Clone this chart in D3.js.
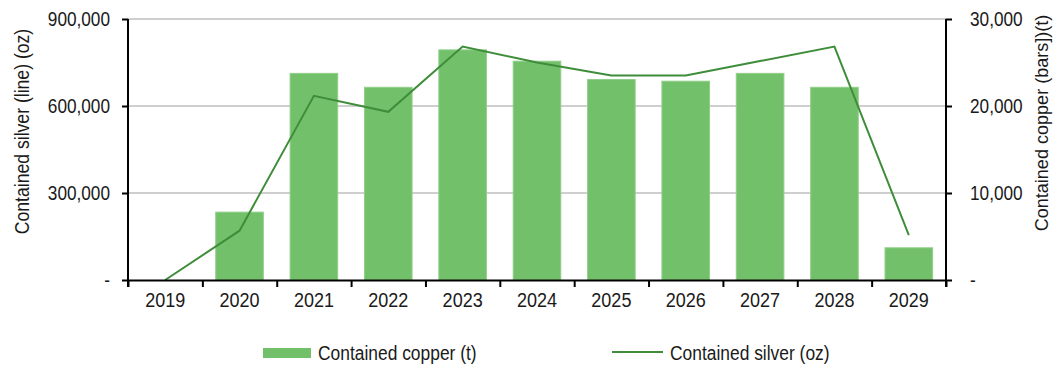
<!DOCTYPE html>
<html>
<head>
<meta charset="utf-8">
<script src="https://cdn.jsdelivr.net/npm/d3@7/dist/d3.min.js"></script>
<style>
  html, body { margin: 0; padding: 0; background: #fff; }
  svg { display: block; }
  text { font-family: "Liberation Sans", Arial, sans-serif; fill: #1a1a1a; }
</style>
</head>
<body>
<svg id="chart" width="1062" height="367"></svg>
<script>
// Years on the category axis
const years = ["2019", "2020", "2021", "2022", "2023", "2024", "2025", "2026", "2027", "2028", "2029"];
// Contained copper, tonnes (bars, right axis)
const copperT = [0, 7800, 23750, 22150, 26450, 25150, 23050, 22850, 23750, 22150, 3700];
// Contained silver, ounces (line, left axis)
const silverOz = [0, 170000, 635000, 580000, 805000, 750000, 705000, 705000, 755000, 805000, 155000];
// Axis tick values
const silverTicks = [0, 300000, 600000, 900000];
const copperTicks = [0, 10000, 20000, 30000];

const svg = d3.select("#chart");
const plotL = 128, plotR = 946, plotT = 19, plotB = 280;

// Condense glyphs horizontally to give a narrow typeface look
function squeeze(sel, factor) {
  sel.each(function () {
    const len = this.getComputedTextLength();
    d3.select(this).attr("textLength", len * factor).attr("lengthAdjust", "spacingAndGlyphs");
  });
}

const x = d3.scaleBand().domain(years).range([plotL, plotR])
  .paddingInner(0.36).paddingOuter(0.18);
const yL = d3.scaleLinear().domain([0, 900000]).range([plotB, plotT]);
const yR = d3.scaleLinear().domain([0, 30000]).range([plotB, plotT]);

const fmt = d => d === 0 ? "-" : d3.format(",")(d);

// Horizontal gridlines
svg.append("g").selectAll("line")
  .data(silverTicks.filter(d => d > 0))
  .join("line")
  .attr("x1", plotL).attr("x2", plotR)
  .attr("y1", d => yL(d)).attr("y2", d => yL(d))
  .attr("stroke", "#bfbfbf").attr("stroke-width", 1.5);

// Copper bars
svg.append("g").selectAll("rect")
  .data(years.map((y, i) => ({ y, v: copperT[i] })).filter(d => d.v > 0))
  .join("rect")
  .attr("x", d => x(d.y))
  .attr("width", x.bandwidth())
  .attr("y", d => yR(d.v))
  .attr("height", d => yR(0) - yR(d.v))
  .attr("fill", "#73c06b")
  .attr("stroke", "#8fcf88").attr("stroke-width", 1);

// Silver line
const line = d3.line()
  .x((d, i) => x(years[i]) + x.bandwidth() / 2)
  .y(d => yL(d));
svg.append("path")
  .datum(silverOz)
  .attr("d", line)
  .attr("fill", "none")
  .attr("stroke", "#3f8d3a")
  .attr("stroke-width", 2);

// Left axis
const gL = svg.append("g").attr("transform", `translate(${plotL},0)`)
  .call(d3.axisLeft(yL).tickValues(silverTicks).tickFormat(fmt).tickSize(6).tickPadding(12));
// Right axis
const gR = svg.append("g").attr("transform", `translate(${plotR},0)`)
  .call(d3.axisRight(yR).tickValues(copperTicks).tickFormat(fmt).tickSize(6).tickPadding(18));

// Category axis: tick marks on boundaries, labels centred under bars
const xb = d3.scaleLinear().domain([0, years.length]).range([plotL, plotR]);
const gX = svg.append("g").attr("transform", `translate(0,${plotB})`)
  .call(d3.axisBottom(xb).tickValues(d3.range(years.length + 1)).tickFormat("").tickSize(7).tickSizeOuter(0));
const gXL = svg.append("g").attr("transform", `translate(0,${plotB})`)
  .call(d3.axisBottom(x).tickSize(0).tickPadding(12));
gXL.select(".domain").remove();

[gL, gR, gX].forEach(g => {
  g.selectAll(".domain, .tick line").attr("stroke", "#000").attr("stroke-width", 2);
});
[gL, gR, gXL].forEach(g => {
  g.selectAll(".tick text").attr("fill", "#1a1a1a").style("font-size", "20px")
    .style("font-family", '"Liberation Sans", Arial, sans-serif');
});
gXL.selectAll(".tick text").attr("dy", null).attr("y", 27);
squeeze(gL.selectAll(".tick text"), 0.86);
squeeze(gR.selectAll(".tick text"), 0.86);
squeeze(gXL.selectAll(".tick text"), 0.9);
gL.select(".domain").attr("d", `M0,${plotT}V${plotB + 7}`);
gR.select(".domain").attr("d", `M0,${plotT}V${plotB + 7}`);

// Axis titles
const tL = svg.append("text")
  .attr("transform", `translate(29,131.5) rotate(-90)`)
  .attr("text-anchor", "middle")
  .style("font-size", "20px")
  .text("Contained silver (line) (oz)");
const tR = svg.append("text")
  .attr("transform", `translate(1048,123) rotate(-90)`)
  .attr("text-anchor", "middle")
  .style("font-size", "19px")
  .text("Contained copper (bars])(t)");
squeeze(tL, 0.88);
squeeze(tR, 0.95);

// Legend
const lg = svg.append("g");
lg.append("rect").attr("x", 263).attr("y", 348).attr("width", 48).attr("height", 10).attr("fill", "#73c06b");
lg.append("text").attr("x", 318).attr("y", 360).style("font-size", "20px").text("Contained copper (t)");
lg.append("line").attr("x1", 612).attr("x2", 663).attr("y1", 352).attr("y2", 352)
  .attr("stroke", "#3f8d3a").attr("stroke-width", 2);
lg.append("text").attr("x", 670).attr("y", 360).style("font-size", "20px").text("Contained silver (oz)");
squeeze(lg.selectAll("text"), 0.87);
</script>
</body>
</html>
